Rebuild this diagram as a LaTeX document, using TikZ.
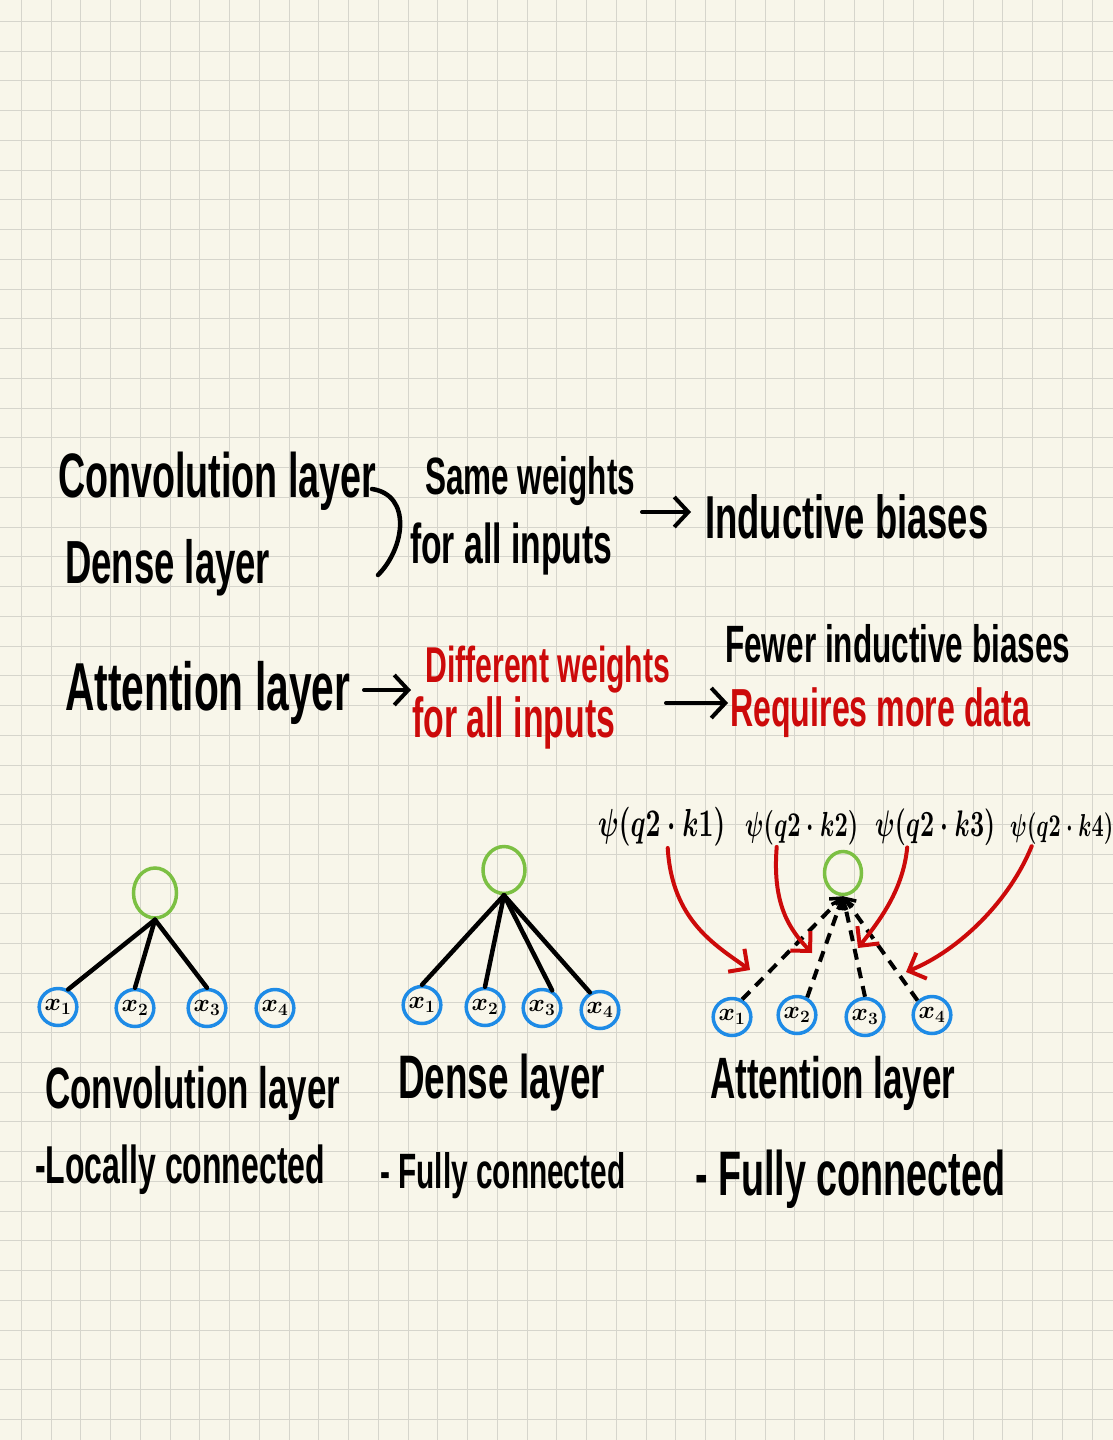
\documentclass[tikz,border=0pt]{standalone}
\usepackage{fontspec}
\usepackage{graphicx}
\usetikzlibrary{arrows.meta,shapes.geometric}
\newfontfamily\handfont[FakeStretch=0.6]{Liberation Sans}
\newcommand{\hw}[2]{\resizebox{#1pt}{!}{\handfont\bfseries #2}}
\newcommand{\hwm}[2]{\scalebox{1}[1.5]{\resizebox{#1pt}{!}{\boldmath$#2$}}}
\definecolor{paper}{HTML}{F8F6EA}
\definecolor{gridc}{HTML}{D6D5CC}
\definecolor{hwred}{HTML}{CC0A0A}
\definecolor{hwgreen}{HTML}{7CC043}
\definecolor{hwblue}{HTML}{1E8BE6}
\tikzset{
  hwtext/.style={inner sep=0pt, anchor=base west},
  redtext/.style={hwtext, text=hwred},
  gcirc/.style={ellipse, draw=hwgreen, line width=3.5pt, inner sep=0pt},
  bcirc/.style={ellipse, draw=hwblue, line width=3.5pt, inner sep=0pt,
    minimum width=37pt, minimum height=37pt,
    font=\fontsize{25pt}{25pt}\selectfont\boldmath},
  wire/.style={line width=4.5pt, line cap=round},
  dashwire/.style={line width=4pt, dash pattern=on 11pt off 8pt,
    -{Straight Barb[length=9pt,width=16pt,line width=3.5pt]}},
  redarrow/.style={draw=hwred, line width=4pt, line cap=round,
    -{Straight Barb[length=14pt,width=28pt,line width=4pt]}},
  textarrow/.style={line width=4pt, line cap=round,
    -{Straight Barb[length=14pt,width=30pt,line width=4pt]}}
}
\begin{document}
\begin{tikzpicture}[x=1pt,y=-1pt]
\useasboundingbox (0,0) rectangle (1113,1440);
\fill[paper] (0,0) rectangle (1113,1440);
\foreach \i in {0,...,37} \draw[gridc, line width=1pt] (21.5+29.74*\i,0) -- (21.5+29.74*\i,1440);
\foreach \i in {0,...,47} \draw[gridc, line width=1pt] (0,21.5+29.74*\i) -- (1113,21.5+29.74*\i);

% --- top block ---
\node[hwtext] (conv) at (58,497) {\hw{318}{Convolution layer}};
\node[hwtext] (dense) at (65,583) {\hw{205}{Dense layer}};
\draw[wire] (372,489) .. controls (412,495) and (405,548) .. (378,575);
\node[hwtext] (same) at (425,494) {\hw{210}{Same weights}};
\node[hwtext] (forall) at (410,563) {\hw{202}{for all inputs}};
\coordinate (a1s) at (642,512);
\node[hwtext] (ind) at (705,538) {\hw{283}{Inductive biases}};
\draw[textarrow] (a1s) -- ([xshift=-14pt]ind.base west |- a1s);

\node[hwtext] (att) at (65,710) {\hw{285}{Attention layer}};
\coordinate (a2s) at (364,690);
\node[redtext] (diff) at (425,682) {\hw{245}{Different weights}};
\node[redtext] (forall2) at (412,737) {\hw{203}{for all inputs}};
\draw[textarrow] (a2s) -- ([xshift=-14pt]diff.base west |- a2s);
\node[hwtext] (fewer) at (725,662) {\hw{345}{Fewer inductive biases}};
\node[redtext] (req) at (730,726) {\hw{300}{Requires more data}};
\coordinate (a3s) at (666,703);
\draw[textarrow] (a3s) -- ([xshift=-2pt]req.base west |- a3s);

% --- psi labels ---
\node[hwtext] (p1) at (598,836) {\hwm{127}{\psi(q2\cdot k1)}};
\node[hwtext] (p2) at (745,836) {\hwm{113}{\psi(q2\cdot k2)}};
\node[hwtext] (p3) at (875,836) {\hwm{120}{\psi(q2\cdot k3)}};
\node[hwtext] (p4) at (1010,836) {\hwm{103}{\psi(q2\cdot k4)}};

% --- convolution diagram ---
\node[gcirc, minimum width=43pt, minimum height=50pt] (c0) at (155,893) {};
\node[bcirc] (cx1) at (58,1007) {$x_1$};
\node[bcirc] (cx2) at (135,1008) {$x_2$};
\node[bcirc] (cx3) at (207,1008) {$x_3$};
\node[bcirc] (cx4) at (275,1008) {$x_4$};
\draw[wire] (c0.south) -- (cx1.60);
\draw[wire] (c0.south) -- (cx2.north);
\draw[wire] (c0.south) -- (cx3.north);

% --- dense diagram ---
\node[gcirc, minimum width=42pt, minimum height=47pt] (d0) at (504,870) {};
\node[bcirc] (dx1) at (422,1005) {$x_1$};
\node[bcirc] (dx2) at (485,1007) {$x_2$};
\node[bcirc] (dx3) at (542,1008) {$x_3$};
\node[bcirc] (dx4) at (600,1010) {$x_4$};
\draw[wire] (d0.south) -- (dx1.north);
\draw[wire] (d0.south) -- (dx2.north);
\draw[wire] (d0.south) -- (dx3.60);
\draw[wire] (d0.south) -- (dx4.120);

% --- attention diagram ---
\node[gcirc, minimum width=37pt, minimum height=43pt] (t0) at (843,873) {};
\node[bcirc] (tx1) at (732,1017) {$x_1$};
\node[bcirc] (tx2) at (797,1015) {$x_2$};
\node[bcirc] (tx3) at (865,1017) {$x_3$};
\node[bcirc] (tx4) at (932,1015) {$x_4$};
\draw[dashwire] (tx1.60) -- (t0.south);
\draw[dashwire] (tx2.60) -- (t0.south);
\draw[dashwire] (tx3.north) -- (t0.south);
\draw[dashwire] (tx4.135) -- (t0.south);

\coordinate (r1) at (750,970);
\coordinate (r2) at (812,953);
\coordinate (r3) at (858,948);
\coordinate (r4) at (906,972);
\draw[redarrow] ([xshift=6pt,yshift=-2pt]p1.south) .. controls (672,920) and (715,945) .. (r1);
\draw[redarrow] ([xshift=-25pt,yshift=-2pt]p2.south) .. controls (772,905) and (790,930) .. (r2);
\draw[redarrow] ([xshift=-28pt,yshift=-2pt]p3.south) .. controls (903,890) and (880,920) .. (r3);
\draw[redarrow] ([xshift=-30pt,yshift=-2pt]p4.south) .. controls (1010,900) and (960,950) .. (r4);

% --- bottom labels ---
\node[hwtext] (lc1) at (45,1108) {\hw{295}{Convolution layer}};
\node[hwtext] (lc2) at (35,1183) {\hw{290}{-Locally connected}};
\node[hwtext] (ld1) at (398,1098) {\hw{207}{Dense layer}};
\node[hwtext] (ld2) at (380,1188) {\hw{245}{- Fully connected}};
\node[hwtext] (la1) at (710,1098) {\hw{245}{Attention layer}};
\node[hwtext] (la2) at (695,1195) {\hw{310}{- Fully connected}};
\end{tikzpicture}
\end{document}
